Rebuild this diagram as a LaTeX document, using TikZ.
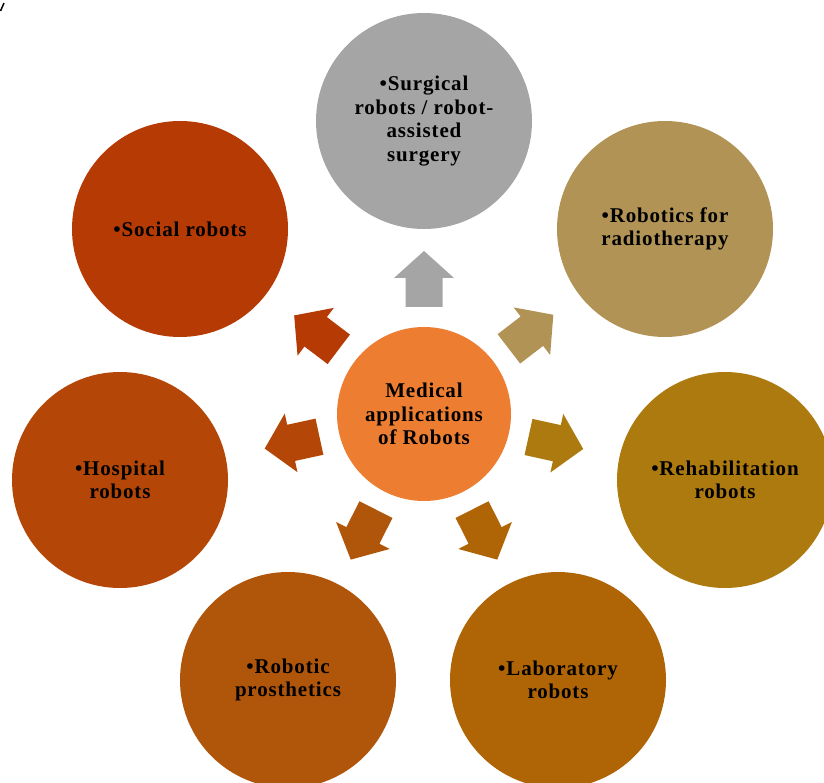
\documentclass[tikz,border=0pt]{standalone}
\usepackage{fontspec}
\newfontfamily\lblfont[LetterSpace=4]{Liberation Serif}
\definecolor{cCenter}{HTML}{ED7D31}
\definecolor{cSurg}{HTML}{A5A5A5}
\definecolor{cRadio}{HTML}{B29356}
\definecolor{cRehab}{HTML}{AD7A10}
\definecolor{cLab}{HTML}{AF6505}
\definecolor{cPros}{HTML}{B0560A}
\definecolor{cHosp}{HTML}{B44707}
\definecolor{cSoc}{HTML}{B63A04}
\tikzset{
  bubble/.style={circle, minimum size=216pt, inner sep=0pt, align=center,
    font=\lblfont\bfseries\fontsize{21}{23.5}\selectfont, text=black},
  hub/.style={bubble, minimum size=174pt},
}
\newcommand\blockarrow[2]{%
  \begin{scope}[shift={(c0.center)}, rotate=#1]
    \fill[#2] (107,-18.5) -- (136,-18.5) -- (136,-30) -- (163,0) -- (136,30)
      -- (136,18.5) -- (107,18.5) -- cycle;
  \end{scope}}
\begin{document}
\begin{tikzpicture}[x=1pt, y=-1pt]
  \useasboundingbox (0,0) rectangle (824,783);
  \clip (0,0) rectangle (824,783);
  \fill[white] (0,0) rectangle (824,783);
  \draw[black, line width=1.5pt] (0.5,11) -- (4,3);
  \node[hub, fill=cCenter] (c0) at (424,414) {Medical\\applications\\of Robots};
  \node[bubble, fill=cSurg] (s1) at (424,121) {\textbullet Surgical\\robots / robot-\\assisted\\surgery};
  \node[bubble, fill=cRadio] (s2) at (665,229) {\textbullet Robotics for\\radiotherapy};
  \node[bubble, fill=cRehab] (s3) at (725,480) {\textbullet Rehabilitation\\robots};
  \node[bubble, fill=cLab] (s4) at (558,680) {\textbullet Laboratory\\robots};
  \node[bubble, fill=cPros] (s5) at (288,680) {\textbullet Robotic\\prosthetics};
  \node[bubble, fill=cHosp] (s6) at (120,480) {\textbullet Hospital\\robots};
  \node[bubble, fill=cSoc] (s7) at (180,229) {\textbullet Social robots};
  \blockarrow{90}{cSurg}
  \blockarrow{37.5}{cRadio}
  \blockarrow{-12.4}{cRehab}
  \blockarrow{-63.3}{cLab}
  \blockarrow{-116.7}{cPros}
  \blockarrow{-167.75}{cHosp}
  \blockarrow{142.8}{cSoc}
\end{tikzpicture}
\end{document}
